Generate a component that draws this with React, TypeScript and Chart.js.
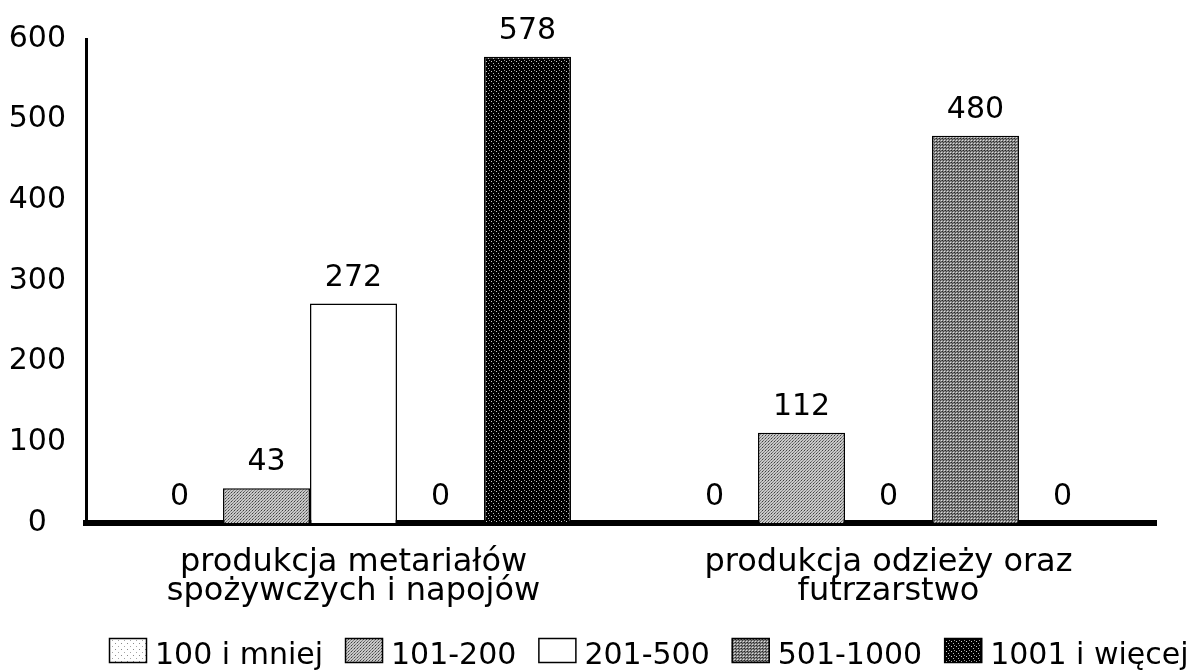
import { useEffect, useRef } from "react";
import { Chart, registerables } from "chart.js";

Chart.register(...registerables);

// Categories (two-line labels) and the size classes shown as series
const categories: string[][] = [
  ["produkcja metariałów", "spożywczych i napojów"],
  ["produkcja odzieży oraz", "futrzarstwo"],
];
const seriesNames = ["100 i mniej", "101-200", "201-500", "501-1000", "1001 i więcej"];

const values100 = [0, 0];
const values101 = [43, 112];
const values201 = [272, 0];
const values501 = [0, 480];
const values1001 = [578, 0];

const yMin = 0;
const yMax = 600;
const yStep = 100;

const FONT = '"DejaVu Sans", sans-serif';

type Dot = [number, number, string];

// Small repeating tiles imitate the printed hatch/stipple fills
function makePattern(size: number, bg: string, dots: Dot[]): CanvasPattern | string {
  const tile = document.createElement("canvas");
  tile.width = size;
  tile.height = size;
  const c = tile.getContext("2d");
  if (!c) return bg;
  c.fillStyle = bg;
  c.fillRect(0, 0, size, size);
  dots.forEach(([x, y, col]) => {
    c.fillStyle = col;
    c.fillRect(x, y, 1, 1);
  });
  return c.createPattern(tile, "repeat") || bg;
}

const valueLabels = {
  id: "valueLabels",
  afterDatasetsDraw(chart: any) {
    const { ctx } = chart;
    ctx.save();
    ctx.font = `30px ${FONT}`;
    ctx.fillStyle = "#000";
    ctx.textAlign = "center";
    ctx.textBaseline = "alphabetic";
    chart.data.datasets.forEach((ds: any, di: number) => {
      const meta = chart.getDatasetMeta(di);
      meta.data.forEach((bar: any, i: number) => {
        const v = ds.data[i];
        ctx.fillText(String(v), bar.x, bar.y - 18);
      });
    });
    ctx.restore();
  },
};

const bottomLegend = {
  id: "bottomLegend",
  afterDraw(chart: any) {
    const { ctx, chartArea } = chart;
    const boxW = 38;
    const boxH = 25;
    const boxTop = chart.height - 32;
    ctx.save();
    ctx.font = `30px ${FONT}`;
    ctx.textAlign = "left";
    ctx.textBaseline = "alphabetic";
    let x = chartArea.left + 23;
    chart.data.datasets.forEach((ds: any) => {
      ctx.fillStyle = ds.backgroundColor;
      ctx.fillRect(x, boxTop, boxW, boxH);
      ctx.strokeStyle = "#000";
      ctx.lineWidth = 1.5;
      ctx.strokeRect(x + 0.5, boxTop + 0.5, boxW - 1, boxH - 1);
      x += boxW + 8;
      ctx.fillStyle = "#000";
      ctx.fillText(ds.label, x, boxTop + boxH + 1);
      x += ctx.measureText(ds.label).width + 22;
    });
    ctx.restore();
  },
};

export default function App() {
  const ref = useRef<HTMLCanvasElement | null>(null);

  useEffect(() => {
    const canvas = ref.current;
    if (!canvas) return;

    const fills = [
      makePattern(6, "#ffffff", [
        [1, 1, "#8a8a8a"],
        [4, 4, "#a5a5a5"],
      ]),
      makePattern(3, "#c8c8c8", [
        [0, 0, "#404040"],
        [1, 2, "#707070"],
        [2, 1, "#858585"],
      ]),
      "#ffffff",
      makePattern(3, "#8a8a8a", [
        [0, 0, "#262626"],
        [1, 1, "#404040"],
        [2, 2, "#dddddd"],
        [2, 0, "#606060"],
      ]),
      makePattern(5, "#000000", [
        [1, 1, "#cccccc"],
        [3, 3, "#bbbbbb"],
        [4, 0, "#999999"],
      ]),
    ];

    const seriesValues = [values100, values101, values201, values501, values1001];

    const chart = new Chart(canvas, {
      type: "bar",
      data: {
        labels: categories,
        datasets: seriesNames.map((name, i) => ({
          label: name,
          data: seriesValues[i],
          backgroundColor: fills[i] as any,
          borderColor: "#000",
          borderWidth: 1.5,
          categoryPercentage: 0.813,
          barPercentage: 1.0,
        })),
      },
      options: {
        responsive: false,
        animation: false,
        layout: { padding: { top: 39, right: 41, bottom: 56, left: 0 } },
        plugins: {
          legend: { display: false },
          tooltip: { enabled: false },
        },
        scales: {
          x: {
            grid: { display: false, drawTicks: false },
            border: { display: true, color: "#000", width: 6 },
            ticks: {
              color: "#000",
              font: { family: FONT, size: 32, lineHeight: 0.92 },
              padding: 25,
              maxRotation: 0,
              autoSkip: false,
            },
            afterFit: (scale: any) => {
              scale.height = 91;
            },
          },
          y: {
            min: yMin,
            max: yMax,
            grid: { display: false, drawTicks: false },
            border: { display: true, color: "#000", width: 3 },
            ticks: {
              stepSize: yStep,
              color: "#000",
              crossAlign: "center",
              padding: 20,
              font: { family: FONT, size: 30 },
            },
            afterFit: (scale: any) => {
              scale.width = 86;
            },
          },
        },
      },
      plugins: [valueLabels, bottomLegend],
    });

    return () => chart.destroy();
  }, []);

  return (
    <div style={{ position: "absolute", left: 0, top: 0, width: 1197, height: 670, background: "#fff" }}>
      <canvas ref={ref} width={1197} height={670} />
    </div>
  );
}
